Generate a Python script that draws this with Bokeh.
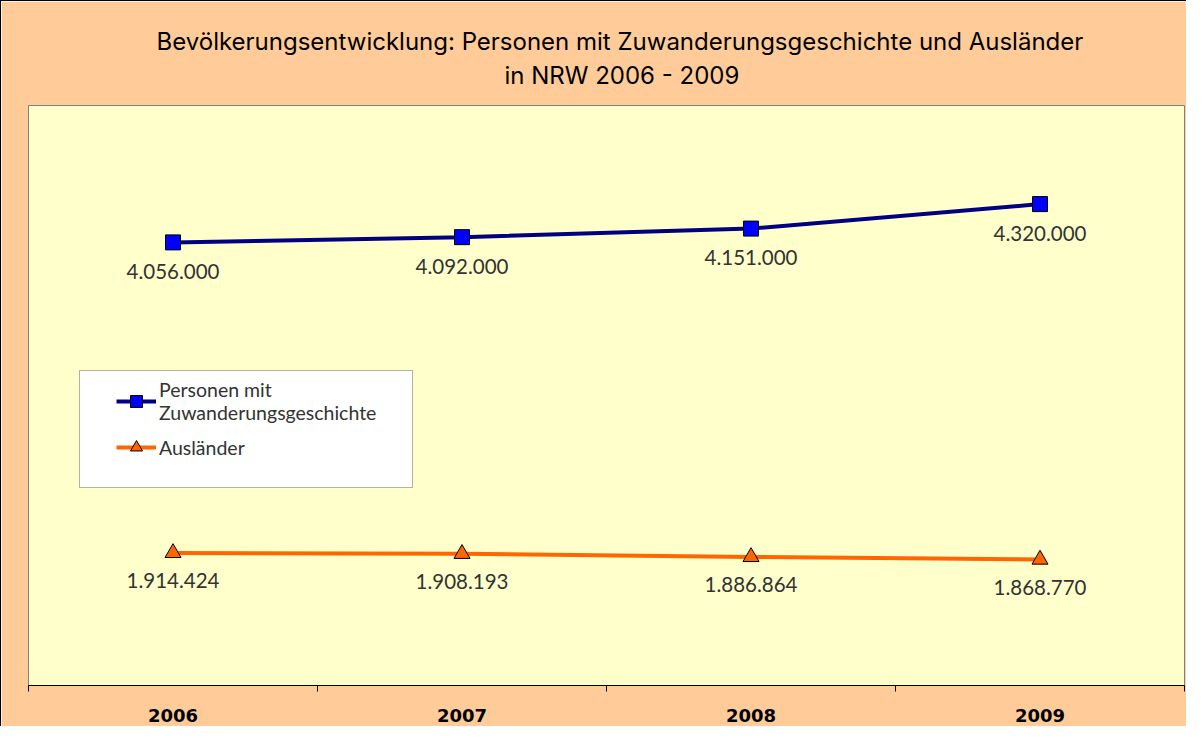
from bokeh.plotting import figure
from bokeh.models import FixedTicker, Legend, LegendItem, BoxAnnotation, Title
from bokeh.core.properties import value
from bokeh.embed import file_html
from bokeh.resources import INLINE

years = ["2006", "2007", "2008", "2009"]
zuwanderung = [4056000, 4092000, 4151000, 4320000]
auslaender = [1914424, 1908193, 1886864, 1868770]
series_names = ["Personen mit\nZuwanderungsgeschichte", "Ausländer"]
title_lines = ["Bevölkerungsentwicklung: Personen mit Zuwanderungsgeschichte und  Ausländer",
               "in NRW 2006 - 2009"]

def de_fmt(v):
    return f"{v:,}".replace(",", ".")

xs = [i + 0.5 for i in range(len(years))]

W, H = 1186, 726
p = figure(width=W, height=H, output_backend="svg", toolbar_location=None, title=None,
           x_range=(0, len(years)), y_range=(1000000, 5000000),
           min_border_left=27, min_border_right=3, min_border_top=104, min_border_bottom=42)
p.border_fill_color = "#FFCC99"
p.background_fill_color = "#FFFFCC"
p.outline_line_color = "#808080"
p.outline_line_width = 1
p.grid.visible = False
p.yaxis.visible = False
p.styles = {"border-left": "1px solid black", "border-top": "1px solid black"}

# closest to the frame first
p.add_layout(Title(text=title_lines[1], align="left", offset=476, standoff=32,
                   text_font="Inter", text_font_size="24px", text_font_style="normal",
                   text_color="black"), "above")
p.add_layout(Title(text=title_lines[0], align="left", offset=128, standoff=-27,
                   text_font="Inter", text_font_size="24px", text_font_style="normal",
                   text_color="black"), "above")

ax = p.xaxis[0]
ax.ticker = FixedTicker(ticks=xs, minor_ticks=list(range(len(years) + 1)))
ax.major_label_overrides = {x: y for x, y in zip(xs, years)}
ax.major_tick_line_color = None
ax.minor_tick_in = 0
ax.minor_tick_out = 6
ax.minor_tick_line_color = "black"
ax.axis_line_color = "black"
ax.major_label_text_font = "DejaVu Sans"
ax.major_label_text_font_style = "bold"
ax.major_label_text_font_size = "18px"
ax.major_label_text_color = "black"
ax.major_label_standoff = 17

l1 = p.line(xs, zuwanderung, line_color="#000080", line_width=4)
s1 = p.scatter(xs, zuwanderung, marker="square", size=15, fill_color="#0000FF", line_color="black", line_width=1)
l2 = p.line(xs, auslaender, line_color="#FF6600", line_width=4)
s2 = p.scatter(xs, auslaender, marker="triangle", size=16, fill_color="#FF6600", line_color="black", line_width=1)

p.text(xs, zuwanderung, text=[de_fmt(v) for v in zuwanderung], y_offset=29,
       text_align="center", text_baseline="middle", text_font=value("Lato"),
       text_font_size="20.5px", text_color="#333333")
p.text(xs, auslaender, text=[de_fmt(v) for v in auslaender], y_offset=28,
       text_align="center", text_baseline="middle", text_font=value("Lato"),
       text_font_size="20.5px", text_color="#333333")

box = BoxAnnotation(left=51, right=384, bottom=198, top=315,
                    left_units="screen", right_units="screen",
                    bottom_units="screen", top_units="screen",
                    fill_color="white", fill_alpha=1, line_color="black", line_width=1)
p.add_layout(box)

legend = Legend(items=[LegendItem(label=series_names[0], renderers=[l1, s1]),
                       LegendItem(label=series_names[1], renderers=[l2, s2])],
                location=(88, 223), glyph_width=40, glyph_height=30, label_standoff=3,
                label_text_font="Lato", label_text_font_size="19.5px",
                label_text_color="#333333", background_fill_alpha=0,
                border_line_color=None, padding=0, spacing=8)
p.add_layout(legend, "center")

open("out.html", "w").write(file_html(p, INLINE))
